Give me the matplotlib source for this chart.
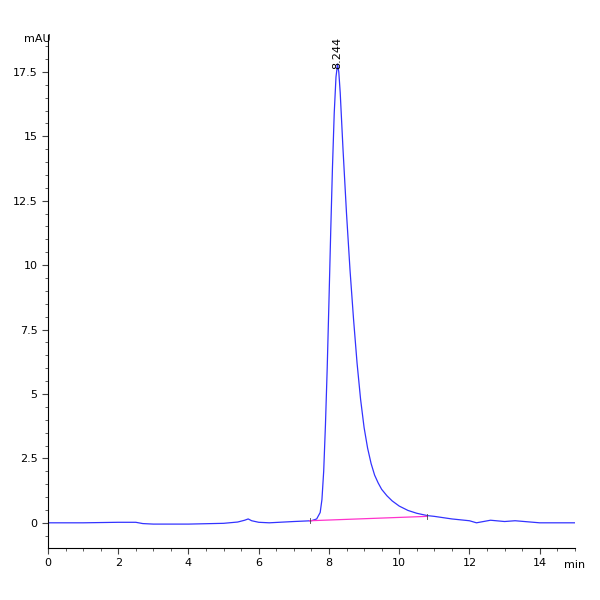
import matplotlib.pyplot as plt
from matplotlib.ticker import MultipleLocator

# chromatogram trace (min, mAU)
rt = [0, 1, 2, 2.5, 2.7, 3, 4, 5, 5.4, 5.6, 5.7, 5.8, 6.0, 6.3, 7, 7.5, 7.65, 7.75, 7.8, 7.85,
      7.9, 7.95, 8.0, 8.05, 8.1, 8.15, 8.2, 8.244, 8.28, 8.32, 8.4, 8.5, 8.6, 8.7, 8.8, 8.9,
      9.0, 9.1, 9.2, 9.3, 9.4, 9.5, 9.65, 9.8, 10, 10.25, 10.5, 10.8, 11, 11.5, 12, 12.2, 12.6, 13, 13.3, 14, 15]
mau = [0, 0, 0.02, 0.02, -0.03, -0.05, -0.05, -0.02, 0.03, 0.1, 0.15, 0.08, 0.02, 0.0, 0.05, 0.08, 0.15, 0.4, 0.9, 2.0,
       3.8, 6.0, 8.6, 11.3, 13.8, 15.9, 17.3, 17.8, 17.5, 16.7, 14.5, 12.0, 9.8, 7.9, 6.2, 4.8,
       3.7, 2.9, 2.3, 1.85, 1.55, 1.3, 1.05, 0.85, 0.65, 0.48, 0.37, 0.28, 0.25, 0.15, 0.08, 0.0, 0.1, 0.05, 0.08, 0.0, 0.0]
base_x = [7.45, 10.8]
base_y = [0.08, 0.25]
peak_rt = 8.244
peak_h = 17.8

fig = plt.figure(figsize=(6, 6), dpi=100)
ax = fig.add_axes([0.08, 0.087, 0.878, 0.855])
ax.plot(rt, mau, color="#3333ff", lw=0.9)
ax.plot(base_x, base_y, color="#ff33cc", lw=0.9)
for bx, by in zip(base_x, base_y):
    ax.plot([bx, bx], [by - 0.1, by + 0.1], color="#444444", lw=0.6)
ax.text(peak_rt, peak_h - 0.2, "8.244", rotation=90, ha="center", va="bottom", fontsize=8)

ax.set_xlim(0, 15)
ax.set_ylim(-0.97, 18.94)
ax.xaxis.set_major_locator(MultipleLocator(2))
ax.xaxis.set_minor_locator(MultipleLocator(0.5))
ax.yaxis.set_minor_locator(MultipleLocator(0.5))
ax.set_yticks([0, 2.5, 5, 7.5, 10, 12.5, 15, 17.5])
ax.set_yticklabels(["0", "2.5", "5", "7.5", "10", "12.5", "15", "17.5"])
for s in ["top", "right"]:
    ax.spines[s].set_visible(False)
ax.tick_params(labelsize=8, length=4, color="#444444")
ax.tick_params(which="minor", length=2.5, color="#444444")
fig.text(0.04, 0.93, "mAU", fontsize=8)
fig.text(0.94, 0.053, "min", fontsize=8)
fig.savefig("out.png")
